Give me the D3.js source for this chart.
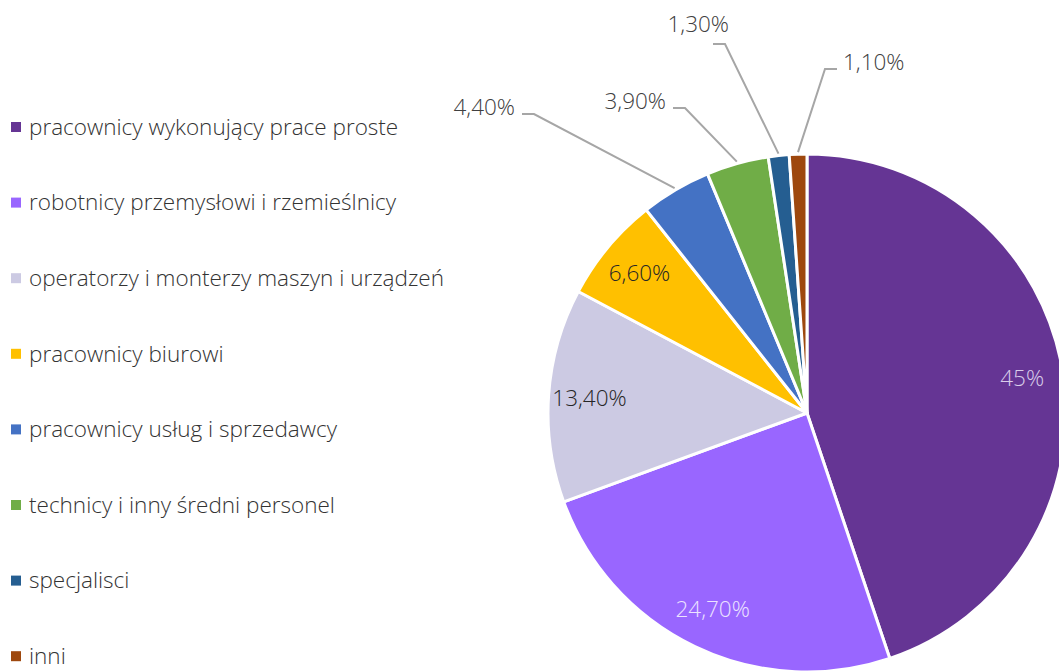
<!DOCTYPE html>
<html>
<head>
<meta charset="utf-8">
<script src="https://cdn.jsdelivr.net/npm/d3@7"></script>
<style>
  body { margin: 0; background: #fff; }
  text { font-family: "Open Sans", "Noto Sans", sans-serif; font-weight: 300; }
</style>
</head>
<body>
<script>
var categories = [
    "pracownicy wykonujący prace proste",
    "robotnicy przemysłowi i rzemieślnicy",
    "operatorzy i monterzy maszyn i urządzeń",
    "pracownicy biurowi",
    "pracownicy usług i sprzedawcy",
    "technicy i inny średni personel",
    "specjalisci",
    "inni"
];
var values = [45, 24.7, 13.4, 6.6, 4.4, 3.9, 1.3, 1.1];
var labels = ["45%", "24,70%", "13,40%", "6,60%", "4,40%", "3,90%", "1,30%", "1,10%"];
var colors = ["#653594", "#9966ff", "#cccae3", "#ffc000", "#4472c4", "#70ad47", "#255e91", "#9e480e"];

var width = 1059, height = 671;
var cx = 807, cy = 413, radius = 259;
var fontSize = 22.5;

var svg = d3.select("body").append("svg")
    .attr("width", width).attr("height", height);

var pie = d3.pie().sort(null).value(function (d) { return d; });
var arc = d3.arc().innerRadius(0).outerRadius(radius);
var labelArc = d3.arc().innerRadius(218).outerRadius(218);
var arcs = pie(values);

var g = svg.append("g").attr("transform", "translate(" + cx + "," + cy + ")");

g.selectAll("path.slice")
    .data(arcs)
    .enter().append("path")
    .attr("class", "slice")
    .attr("d", arc)
    .attr("fill", function (d, i) { return colors[i]; })
    .attr("stroke", "#fff")
    .attr("stroke-width", 3)
    .attr("stroke-linejoin", "round");

// inside labels
var insideFill = ["#d9cdea", "#ece3ff", "#262626", "#262626"];
g.selectAll("text.inside")
    .data(arcs.slice(0, 4))
    .enter().append("text")
    .attr("class", "inside")
    .attr("transform", function (d) { return "translate(" + labelArc.centroid(d) + ")"; })
    .attr("text-anchor", "middle")
    .attr("dy", "0.35em")
    .attr("font-size", fontSize)
    .attr("fill", function (d, i) { return insideFill[i]; })
    .text(function (d, i) { return labels[i]; });

// outside labels with leader lines (elbow corner relative to center)
var outside = [
    {i: 4, ex: -273, ey: -299, dir: -1},
    {i: 5, ex: -122, ey: -305, dir: -1},
    {i: 6, ex: -82, ey: -369, dir: -1, above: true},
    {i: 7, ex: 18, ey: -344, dir: 1}
];
outside.forEach(function (o) {
    var a = (arcs[o.i].startAngle + arcs[o.i].endAngle) / 2;
    var r0 = radius + 2;
    var sx = r0 * Math.sin(a), sy = -r0 * Math.cos(a);
    var hx = o.ex + o.dir * 12;
    g.append("path")
        .attr("d", "M" + sx + "," + sy + "L" + o.ex + "," + o.ey + "L" + hx + "," + o.ey)
        .attr("fill", "none")
        .attr("stroke", "#a6a6a6")
        .attr("stroke-width", 2);
    var t = g.append("text")
        .attr("font-size", fontSize)
        .attr("fill", "#404040")
        .attr("dy", "0.35em")
        .text(labels[o.i]);
    if (o.above) {
        t.attr("x", o.ex + 4).attr("y", o.ey - 20).attr("text-anchor", "end");
    } else if (o.dir < 0) {
        t.attr("x", hx - 7).attr("y", o.ey - 7).attr("text-anchor", "end");
    } else {
        t.attr("x", hx + 6).attr("y", o.ey - 7).attr("text-anchor", "start");
    }
});

// legend
var legend = svg.append("g");
var rows = legend.selectAll("g")
    .data(categories)
    .enter().append("g")
    .attr("transform", function (d, i) { return "translate(11," + (127 + i * 75.6) + ")"; });

rows.append("rect")
    .attr("x", 0).attr("y", -5)
    .attr("width", 10).attr("height", 10)
    .attr("fill", function (d, i) { return colors[i]; });

rows.append("text")
    .attr("x", 18)
    .attr("dy", "0.35em")
    .attr("font-size", fontSize)
    .attr("fill", "#333333")
    .text(function (d) { return d; });
</script>
</body>
</html>
